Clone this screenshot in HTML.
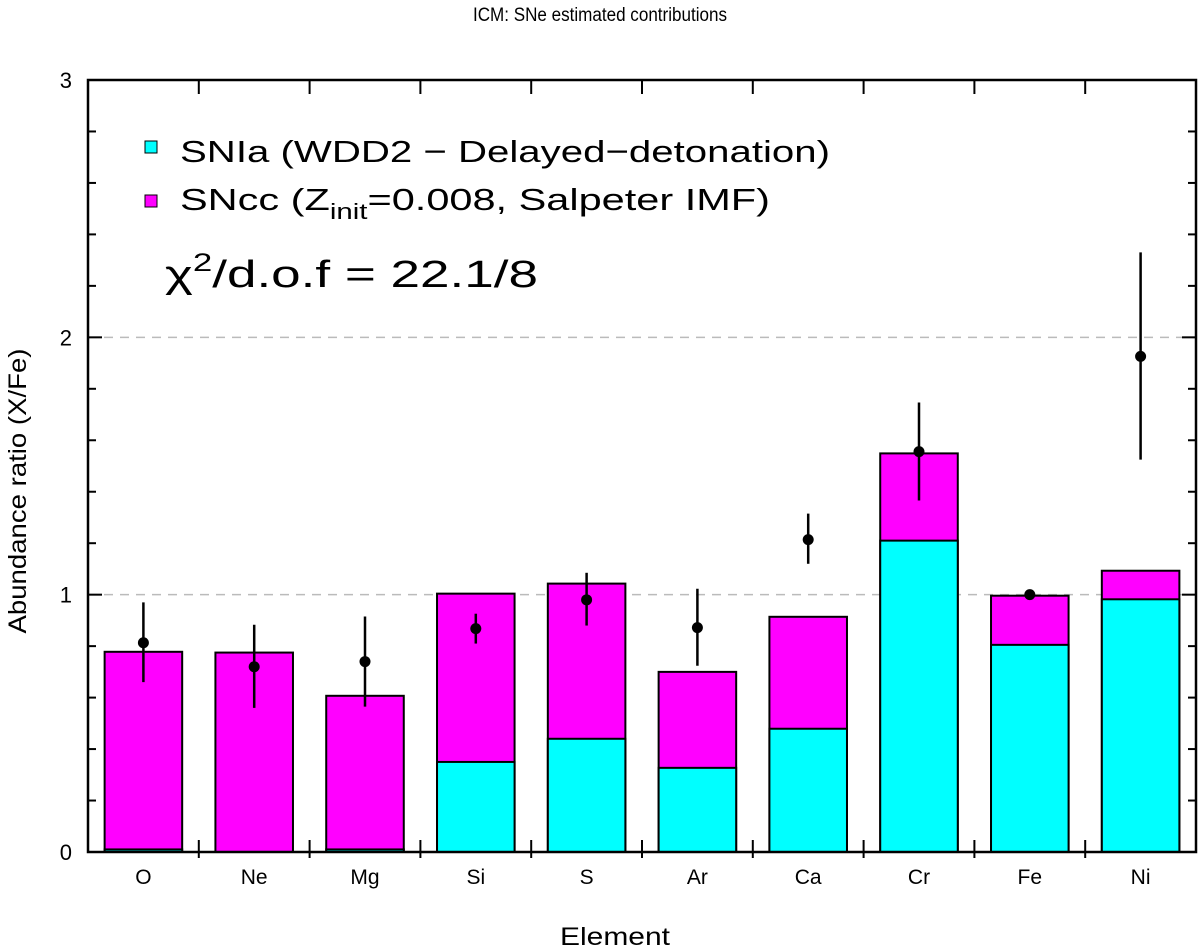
<!DOCTYPE html>
<html><head><meta charset="utf-8"><style>
body{margin:0;background:#fff;}
svg{display:block;font-family:"Liberation Sans",sans-serif;}
</style></head><body>
<svg id="chart" width="1200" height="950" viewBox="0 0 1200 950">
<text x="600" y="21" text-anchor="middle" font-size="19" textLength="254" lengthAdjust="spacingAndGlyphs">ICM: SNe estimated contributions</text>
<g id="grid"></g>
<g id="bars"></g>
<g id="points"></g>
<g id="axes"></g>
<g>
<rect x="145" y="141" width="12" height="12" fill="#00ffff" stroke="#000" stroke-width="1"/>
<text x="180" y="162" font-size="31" textLength="650" lengthAdjust="spacingAndGlyphs">SNIa (WDD2 − Delayed−detonation)</text>
<rect x="145" y="195" width="12" height="12" fill="#ff00ff" stroke="#000" stroke-width="1"/>
<text x="180" y="210" font-size="31" textLength="590" lengthAdjust="spacingAndGlyphs">SNcc (Z<tspan font-size="22" dy="9">init</tspan><tspan dy="-9">=0.008, Salpeter IMF)</tspan></text>
<text x="165" y="287" font-size="38" textLength="373" lengthAdjust="spacingAndGlyphs">χ<tspan font-size="25" dy="-16">2</tspan><tspan dy="16">/d.o.f = 22.1/8</tspan></text>
</g>
<text x="615" y="945" text-anchor="middle" font-size="25" textLength="110" lengthAdjust="spacingAndGlyphs">Element</text>
<text transform="translate(26,491) rotate(-90)" text-anchor="middle" font-size="25" textLength="285" lengthAdjust="spacingAndGlyphs">Abundance ratio (X/Fe)</text>
</svg>
<script>
const categories=["O","Ne","Mg","Si","S","Ar","Ca","Cr","Fe","Ni"];
const sniaValues=[0.01,0.0,0.01,0.35,0.44,0.327,0.479,1.21,0.805,0.982];
const totalValues=[0.778,0.775,0.607,1.004,1.043,0.70,0.914,1.549,0.996,1.093];
const obsValues=[0.813,0.72,0.74,0.868,0.98,0.872,1.214,1.556,1.0,1.926];
const errHigh=[0.97,0.883,0.915,0.926,1.085,1.023,1.315,1.747,1.0,2.33];
const errLow=[0.66,0.56,0.565,0.81,0.88,0.724,1.12,1.366,1.0,1.525];
const yTicks=[0,1,2,3];
const X0=88,X1=1196,Y0=852,Y1=80,YMAX=3;
const cw=(X1-X0)/categories.length;
function y(v){return Y0-(v/YMAX)*(Y0-Y1);}
function xc(i){return X0+cw*(i+0.5);}
const NS="http://www.w3.org/2000/svg";
function mk(tag,attrs,parent){const e=document.createElementNS(NS,tag);for(const k in attrs)e.setAttribute(k,attrs[k]);parent.appendChild(e);return e;}
const grid=document.getElementById('grid'),bars=document.getElementById('bars'),pts=document.getElementById('points'),axes=document.getElementById('axes');
[1,2].forEach(v=>{
 const l=mk('line',{x1:X0,x2:X1,y1:y(v),y2:y(v),stroke:'#bbb','stroke-width':1.5,'stroke-dasharray':'9,7'},grid);
 
 
});
const bw=cw*0.7;
categories.forEach((c,i)=>{
 const x=xc(i)-bw/2;
 const r1=mk('rect',{x:x,y:y(totalValues[i]),width:bw,height:y(0)-y(totalValues[i]),fill:'#ff00ff',stroke:'#000','stroke-width':2},bars);
 
 
 const r2=mk('rect',{x:x,y:y(sniaValues[i]),width:bw,height:y(0)-y(sniaValues[i]),fill:'#00ffff',stroke:'#000','stroke-width':2},bars);
 
 
 const eb=mk('line',{x1:xc(i),x2:xc(i),y1:y(errHigh[i]),y2:y(errLow[i]),stroke:'#000','stroke-width':2.5},pts);
 
 
 const p=mk('circle',{cx:xc(i),cy:y(obsValues[i]),r:5.5,fill:'#000'},pts);
 
 
 const t=mk('text',{x:xc(i),y:Y0+32,'text-anchor':'middle','font-size':21},axes);
 t.textContent=c;
 
 
});
const fr=mk('rect',{x:X0,y:Y1,width:X1-X0,height:Y0-Y1,fill:'none',stroke:'#000','stroke-width':2.5},axes);


for(let i=1;i<categories.length;i++){
 const xx=X0+cw*i;
 mk('line',{x1:xx,x2:xx,y1:Y0+6,y2:Y0-12,stroke:'#000','stroke-width':2},axes);
 mk('line',{x1:xx,x2:xx,y1:Y1,y2:Y1+14,stroke:'#000','stroke-width':2},axes);
}
for(let k=1;k<15;k++){
 const v=k*0.2, yy=y(v), len=(k%5===0)?14:8;
 mk('line',{x1:X0,x2:X0+len,y1:yy,y2:yy,stroke:'#000','stroke-width':2},axes);
 mk('line',{x1:X1,x2:X1-len,y1:yy,y2:yy,stroke:'#000','stroke-width':2},axes);
}
yTicks.forEach(v=>{
 const t=mk('text',{x:X0-16,y:y(v)+8,'text-anchor':'end','font-size':22},axes);
 t.textContent=v;
 
 
});
</script>
</body></html>
